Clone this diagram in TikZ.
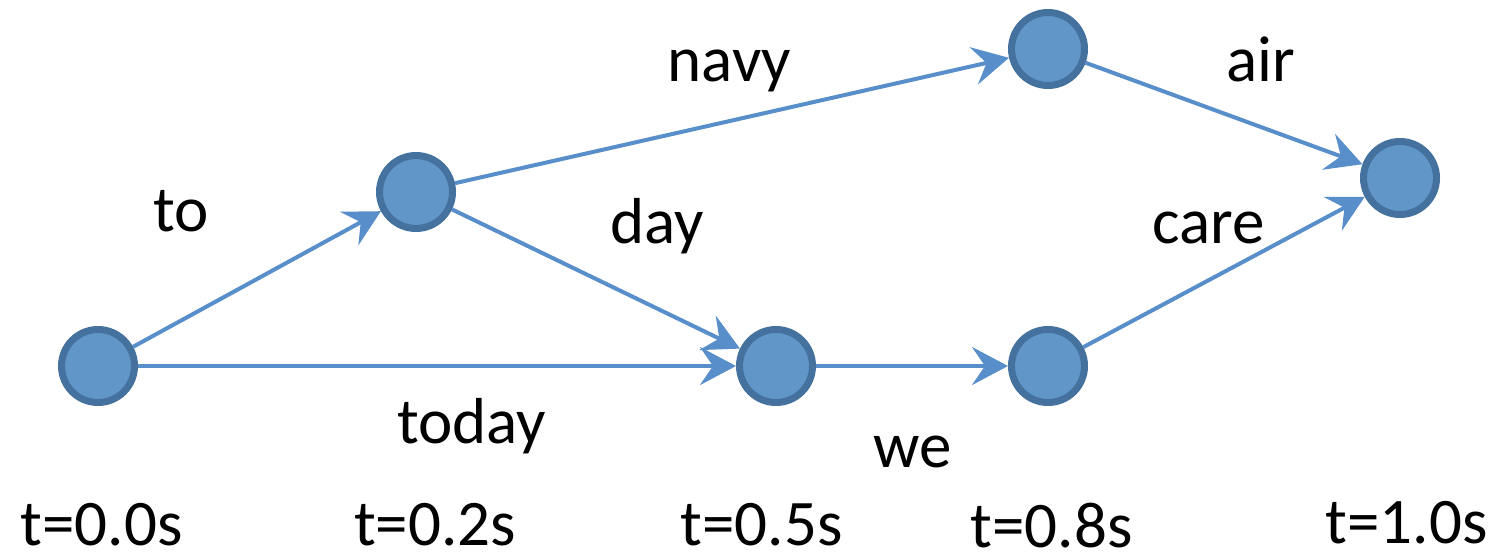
\documentclass[tikz,border=0pt]{standalone}
\usepackage{fontspec}
\setmainfont{Carlito}
\usetikzlibrary{arrows.meta}
\definecolor{nodefill}{RGB}{97,150,201}
\definecolor{nodeborder}{RGB}{68,113,158}
\definecolor{edgecol}{RGB}{88,143,202}
\tikzset{
  state/.style={circle, draw=nodeborder, fill=nodefill, line width=7pt, minimum size=73pt, inner sep=0pt},
  edge/.style={draw=edgecol, line width=4pt, -{Stealth[length=36pt, width=38pt, inset=13pt]}},
  lbl/.style={anchor=base, inner sep=0pt, font=\fontsize{65}{78}\selectfont},
}
\begin{document}
\begin{tikzpicture}[x=1pt, y=-1pt]
\useasboundingbox (0,0) rectangle (1495,554);
\node[state] (n0) at (98,366) {};
\node[state] (n1) at (416,192) {};
\node[state] (n2) at (776,366) {};
\node[state] (n3) at (1048,366) {};
\node[state] (n4) at (1048,49) {};
\node[state] (n5) at (1400,178) {};

\draw[edge] (n0) -- (n1);
\draw[edge] (n0) -- (n2);
\draw[edge] (n1) -- (n4);
\draw[edge] (n1) -- (n2);
\draw[edge] (n2) -- (n3);
\draw[edge] (n4) -- (n5);
\draw[edge] (n3) -- (n5);

\node[lbl] (lto) at (181.5,231) {to};
\node[lbl] (lnavy) at (729.5,81) {navy};
\node[lbl] (lday) at (657,243) {day};
\node[lbl] (lair) at (1261,81) {air};
\node[lbl] (lcare) at (1208.5,243) {care};
\node[lbl] (ltoday) at (471.5,443) {today};
\node[lbl] (lwe) at (912.5,467) {we};

\node[lbl] (t0) at (101.5,545) {t=0.0s};
\node[lbl] (t1) at (435,545) {t=0.2s};
\node[lbl] (t2) at (761.5,545) {t=0.5s};
\node[lbl] (t3) at (1051.5,547) {t=0.8s};
\node[lbl] (t4) at (1406.5,543) {t=1.0s};
\end{tikzpicture}
\end{document}
